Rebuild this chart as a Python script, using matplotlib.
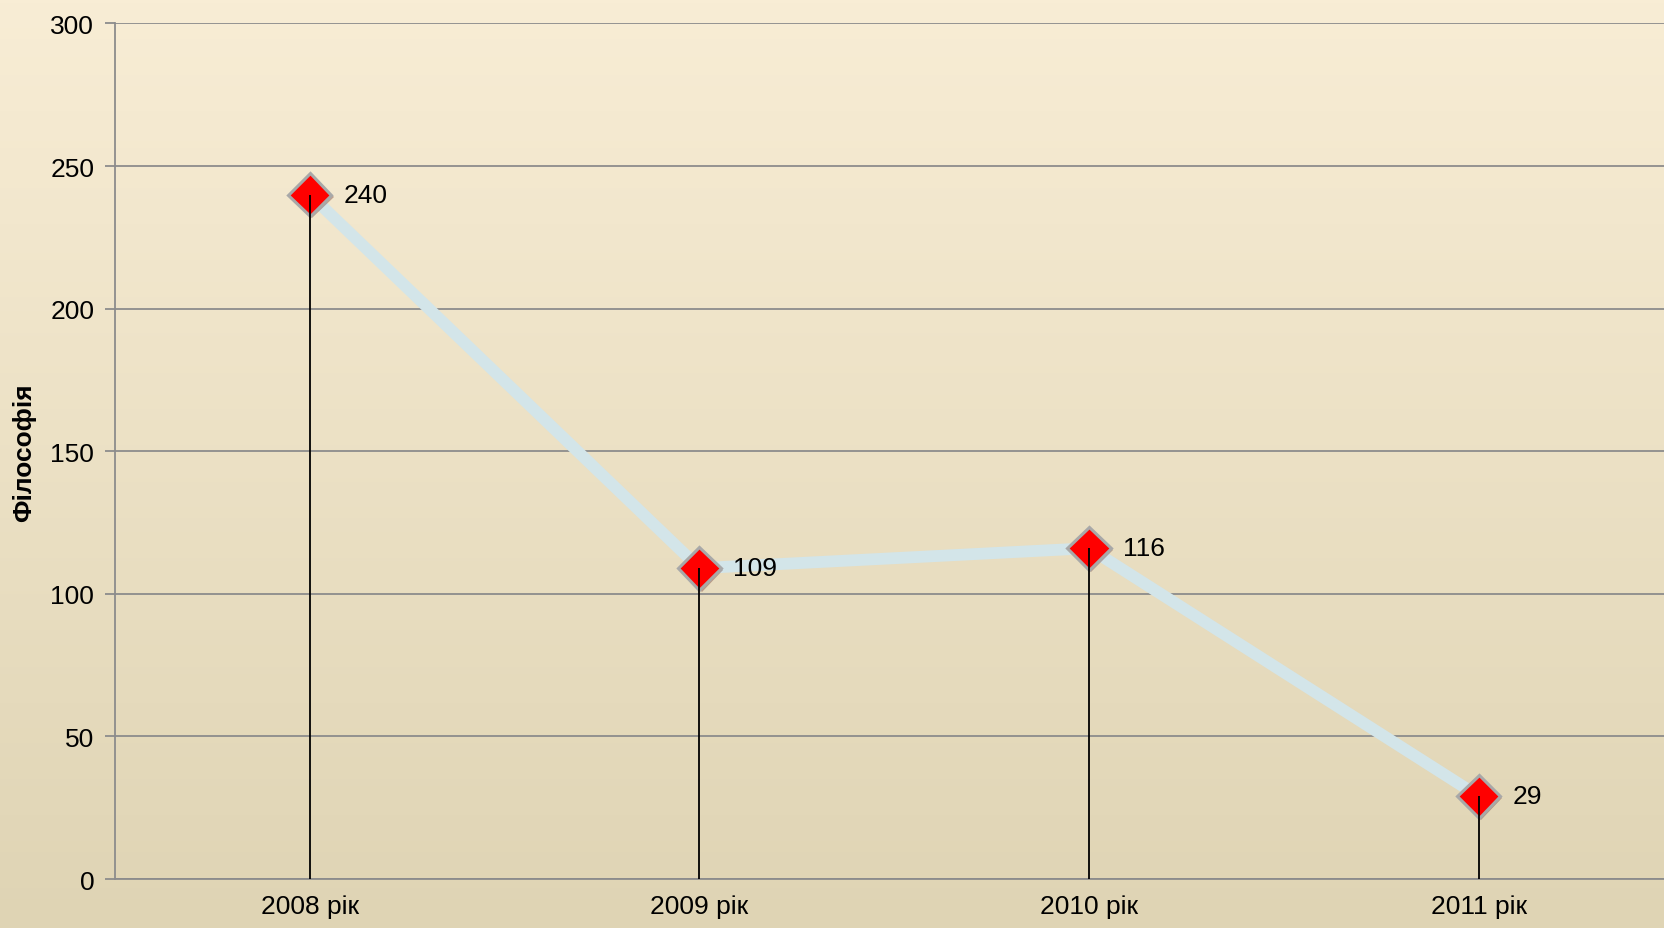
import matplotlib.pyplot as plt
import matplotlib.patheffects as pe
import numpy as np

plt.rcParams['font.family'] = ['Liberation Sans', 'DejaVu Sans']

# дані
years = ['2008 рік', '2009 рік', '2010 рік', '2011 рік']
values = [240, 109, 116, 29]
y_ticks = [0, 50, 100, 150, 200, 250, 300]
y_title = 'Філософія'

fig = plt.figure(figsize=(16.65, 9.29), dpi=100)

# фон з градієнтом
bg = fig.add_axes([0, 0, 1, 1], zorder=-10)
top = np.array([248, 237, 213]) / 255
bottom = np.array([223, 212, 180]) / 255
t = np.linspace(0, 1, 256)[:, None]
grad = top * (1 - t[..., None]) + bottom * t[..., None]
bg.imshow(grad, aspect='auto', extent=[0, 1, 0, 1])
bg.axis('off')

ax = fig.add_axes([0.0691, 0.0527, 0.936, 0.921])
ax.patch.set_alpha(0)
x = np.arange(len(years))

ax.set_xlim(-0.5, 3.5)
ax.set_ylim(0, 300)
ax.set_yticks(y_ticks)
ax.set_xticks(x)
ax.set_xticklabels(years)
ax.yaxis.grid(True, color='#8c8c8c', linewidth=1.3)
ax.set_axisbelow(True)

for s in ['top', 'right']:
    ax.spines[s].set_visible(False)
for s in ['left', 'bottom']:
    ax.spines[s].set_color('#8c8c8c')
    ax.spines[s].set_linewidth(1.3)

fs = 19
ax.tick_params(axis='y', length=7, width=1.3, color='#8c8c8c', labelsize=fs, pad=8)
ax.tick_params(axis='x', length=0, labelsize=fs, pad=11)

ax.plot(x, values, color='#d3e5e9', linewidth=8.5, solid_capstyle='butt', zorder=2)
ax.plot(x, values, linestyle='none', marker='D', markersize=22,
        markerfacecolor='#ff0000', markeredgecolor='#a8a8a8', markeredgewidth=2.2,
        zorder=4,
        path_effects=[pe.SimplePatchShadow(offset=(1.5, -1.5), alpha=0.3), pe.Normal()])
# лінії від маркера до осі
ax.vlines(x, 0, values, color='black', linewidth=1.3, zorder=5)

for xi, v in zip(x, values):
    ax.annotate(str(v), (xi, v), xytext=(34, 0), textcoords='offset pixels',
                ha='left', va='center', fontsize=fs)

fig.text(0.0145, 0.513, y_title, rotation=90, ha='center', va='center',
         fontsize=fs, fontweight='bold')

fig.savefig('out.png', dpi=100)
